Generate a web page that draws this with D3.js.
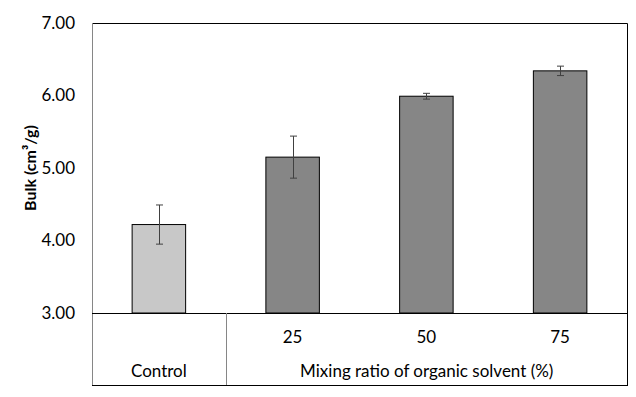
<!DOCTYPE html>
<html>
<head>
<meta charset="utf-8">
<script src="https://cdn.jsdelivr.net/npm/d3@7"></script>
<style>
  body { margin: 0; background: #fff; }
  text { font-family: Lato, "Open Sans", sans-serif; fill: #000; }
</style>
</head>
<body>
<script>
const WIDTH = 636;
const HEIGHT = 397;
const LEFT = 92, RIGHT = 627, TOP = 23, BOTTOM = 313, TABLE_BOTTOM = 385;

// data
var categories = ['Control', '25', '50', '75'];
var values = [4.22, 5.15, 5.99, 6.34];
var errors = [0.27, 0.29, 0.04, 0.065];
var barColors = ['#c8c8c8', '#868686', '#868686', '#868686'];
var yTicks = [3, 4, 5, 6, 7];
var groupLabel = 'Mixing ratio of organic solvent (%)';
var yTitle = 'Bulk (cm³/g)';

var svg = d3.select('body').append('svg')
  .attr('width', WIDTH)
  .attr('height', HEIGHT);

var x = d3.scaleBand().domain(categories).range([LEFT, RIGHT])
  .paddingInner(0.6).paddingOuter(0.3);
var y = d3.scaleLinear().domain([3, 7]).range([BOTTOM, TOP]);

var rows = categories.map(function(c, i){
  return {cat: c, v: values[i], e: errors[i], color: barColors[i]};
});

// bars
svg.append('g').selectAll('rect')
  .data(rows).enter().append('rect')
  .attr('x', function(d){ return x(d.cat); })
  .attr('y', function(d){ return y(d.v); })
  .attr('width', x.bandwidth())
  .attr('height', function(d){ return y(3) - y(d.v); })
  .attr('fill', function(d){ return d.color; })
  .attr('stroke', '#000')
  .attr('stroke-width', 1);

// error bars
var err = svg.append('g').attr('stroke', '#404040').attr('stroke-width', 1);
rows.forEach(function(d){
  var cx = Math.round(x(d.cat) + x.bandwidth()/2) + 0.5;
  err.append('line').attr('x1', cx).attr('x2', cx)
    .attr('y1', y(d.v + d.e)).attr('y2', y(d.v - d.e));
  [d.v + d.e, d.v - d.e].forEach(function(v){
    err.append('line').attr('x1', cx - 3.5).attr('x2', cx + 3.5)
      .attr('y1', y(v)).attr('y2', y(v));
  });
});

// frame: top/right black, left gray
svg.append('path')
  .attr('d', 'M' + LEFT + ',' + (TOP + 0.5) + 'H' + (RIGHT + 0.5) + 'V' + TABLE_BOTTOM)
  .attr('fill', 'none').attr('stroke', '#000');
svg.append('line')
  .attr('x1', LEFT + 0.5).attr('x2', LEFT + 0.5)
  .attr('y1', TOP).attr('y2', TABLE_BOTTOM)
  .attr('stroke', '#868686');

// y axis labels
var yAxis = d3.axisLeft(y).tickValues(yTicks).tickFormat(d3.format('.2f'))
  .tickSize(0).tickPadding(17);
var yg = svg.append('g').attr('transform', 'translate(' + LEFT + ',0)').call(yAxis);
yg.select('.domain').remove();
yg.selectAll('text').style('font-family', 'Lato, sans-serif').style('font-size', '17px').attr('fill', '#000');

svg.append('text')
  .attr('transform', 'translate(36,' + ((TOP + BOTTOM) / 2 + 0) + ') rotate(-90)')
  .attr('text-anchor', 'middle')
  .style('font-size', '16px').style('font-weight', 'bold')
  .text(yTitle);

// category table under the axis
svg.append('line')
  .attr('x1', LEFT).attr('x2', RIGHT + 1)
  .attr('y1', BOTTOM + 0.5).attr('y2', BOTTOM + 0.5)
  .attr('stroke', '#000');
svg.append('line')
  .attr('x1', LEFT).attr('x2', RIGHT + 1)
  .attr('y1', TABLE_BOTTOM + 0.5).attr('y2', TABLE_BOTTOM + 0.5)
  .attr('stroke', '#000');
var divX = Math.round((x('Control') + x.bandwidth() + x('25')) / 2) + 0.5;
svg.append('line')
  .attr('x1', divX).attr('x2', divX)
  .attr('y1', BOTTOM).attr('y2', TABLE_BOTTOM)
  .attr('stroke', '#868686');

svg.append('g').selectAll('text')
  .data(categories.slice(1)).enter().append('text')
  .attr('x', function(d){ return x(d) + x.bandwidth()/2; })
  .attr('y', 343)
  .attr('text-anchor', 'middle')
  .style('font-size', '17px')
  .text(function(d){ return d; });

svg.append('text')
  .attr('x', x('Control') + x.bandwidth()/2)
  .attr('y', 377)
  .attr('text-anchor', 'middle')
  .style('font-size', '17px')
  .text(categories[0]);

svg.append('text')
  .attr('x', (divX + RIGHT) / 2)
  .attr('y', 377)
  .attr('text-anchor', 'middle')
  .style('font-size', '17px')
  .text(groupLabel);
</script>
</body>
</html>
